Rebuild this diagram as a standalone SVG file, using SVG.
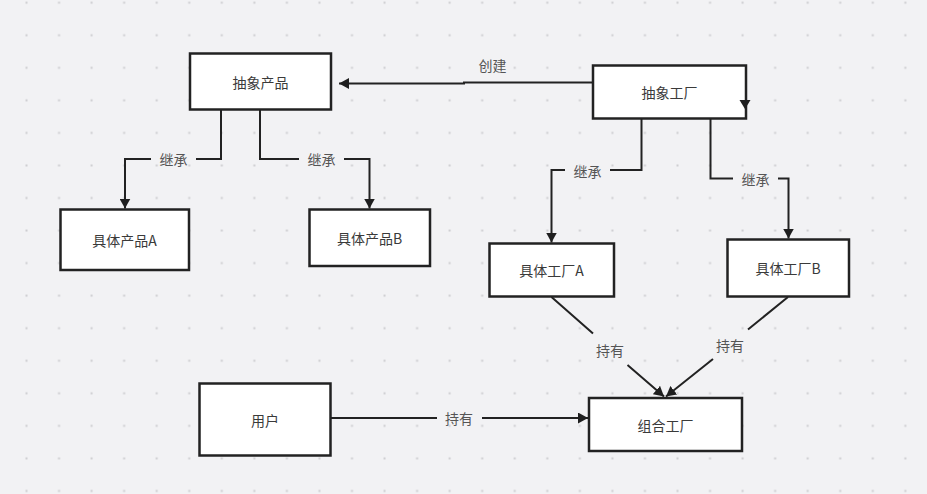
<svg xmlns="http://www.w3.org/2000/svg" width="927" height="494" viewBox="0 0 927 494">
  <defs>
    <pattern id="dots" patternUnits="userSpaceOnUse" x="10.2" y="-13.6" width="32.55" height="32.55">
      <rect x="15.3" y="15.3" width="2" height="2" fill="#cdcdd0"/>
    </pattern>
    <marker id="arrow" markerUnits="userSpaceOnUse" viewBox="0 0 10 11" markerWidth="10" markerHeight="11" refX="10" refY="5.5" orient="auto">
      <path d="M0,0 L10,5.5 L0,11 z" fill="#1f1f1f"/>
    </marker>
    <style>
      .box { fill: #ffffff; stroke: #222222; stroke-width: 2.5; }
      .txt { font-family: "Noto Sans CJK SC", "Noto Sans", "Liberation Sans", sans-serif; font-size: 14px; fill: #3a3a3a; text-anchor: middle; dominant-baseline: central; }
      .lbl { font-family: "Noto Sans CJK SC", "Noto Sans", "Liberation Sans", sans-serif; font-size: 14px; fill: #555555; text-anchor: middle; dominant-baseline: central; }
      .edge { fill: none; stroke: #222222; stroke-width: 2; }
    </style>
  </defs>
  <rect x="0" y="0" width="927" height="494" fill="#f2f2f4"/>
  <rect x="0" y="0" width="927" height="494" fill="url(#dots)"/>

  <g id="connectors">
    <path class="edge" d="M593,82.5 L464,82.5 L464,83.5 L339,83.5" marker-end="url(#arrow)"/>
    <text class="lbl" x="492.5" y="65">创建</text>

    <path class="edge" d="M221,109 V159 H196 M151,159 H125 V208.5" marker-end="url(#arrow)"/>
    <text class="lbl" x="173.5" y="159">继承</text>

    <path class="edge" d="M260,109 V159 H299 M344,159 H369.5 V208.5" marker-end="url(#arrow)"/>
    <text class="lbl" x="321.5" y="159">继承</text>

    <path class="edge" d="M641.5,118 V170 H610 M565,170 H551.5 V242.5" marker-end="url(#arrow)"/>
    <text class="lbl" x="587.5" y="170.5">继承</text>

    <path class="edge" d="M710.5,118 V178.5 H733 M778,178.5 H788.5 V238.5" marker-end="url(#arrow)"/>
    <text class="lbl" x="755.5" y="178.5">继承</text>

    <path class="edge" d="M551.5,297 L593,333.5 M627.5,365 L664,396.5" marker-end="url(#arrow)"/>
    <text class="lbl" x="610" y="350">持有</text>

    <path class="edge" d="M788,297 L748,329.5 M713,359 L666,396.5" marker-end="url(#arrow)"/>
    <text class="lbl" x="730" y="344.5">持有</text>

    <path class="edge" d="M331,418 H437 M482,418 H588" marker-end="url(#arrow)"/>
    <text class="lbl" x="459" y="418">持有</text>
  </g>

  <g id="abstract-product">
    <rect class="box" x="190" y="53.5" width="141" height="56"/>
    <text class="txt" x="260.5" y="81.5">抽象产品</text>
  </g>
  <g id="concrete-product-a">
    <rect class="box" x="60.5" y="209.5" width="128.5" height="60.5"/>
    <text class="txt" x="124.5" y="240">具体产品A</text>
  </g>
  <g id="concrete-product-b">
    <rect class="box" x="309.5" y="209.5" width="120.5" height="56.5"/>
    <text class="txt" x="369.5" y="238">具体产品B</text>
  </g>
  <g id="abstract-factory">
    <rect class="box" x="593" y="65.5" width="153" height="53"/>
    <text class="txt" x="669.5" y="92">抽象工厂</text>
    <path d="M739.5,100 L750.5,100 L745,109 z" fill="#1f1f1f"/>
  </g>
  <g id="concrete-factory-a">
    <rect class="box" x="489.5" y="243.5" width="124.5" height="53"/>
    <text class="txt" x="551.5" y="270">具体工厂A</text>
  </g>
  <g id="concrete-factory-b">
    <rect class="box" x="727.5" y="239.5" width="121.5" height="57"/>
    <text class="txt" x="788" y="268">具体工厂B</text>
  </g>
  <g id="user">
    <rect class="box" x="199.5" y="383.5" width="131" height="72"/>
    <text class="txt" x="265" y="419.5">用户</text>
  </g>
  <g id="composite-factory">
    <rect class="box" x="589" y="398" width="153" height="53"/>
    <text class="txt" x="665.5" y="424.5">组合工厂</text>
  </g>
</svg>
